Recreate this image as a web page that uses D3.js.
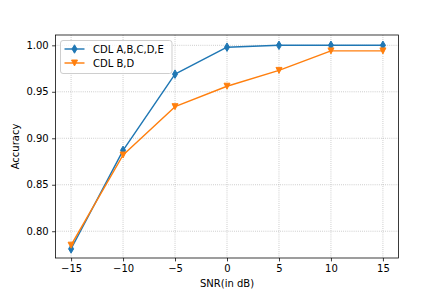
<!DOCTYPE html>
<html><head><meta charset="utf-8">
<script src="https://cdn.jsdelivr.net/npm/d3@7"></script>
<style>body{margin:0;background:#fff}svg{display:block;font-family:"DejaVu Sans",sans-serif}</style>
</head><body>
<script>
const snr = [-15, -10, -5, 0, 5, 10, 15];
const seriesNames = ["CDL A,B,C,D,E", "CDL B,D"];
const accAll = [0.781, 0.887, 0.969, 0.998, 1.000, 1.000, 1.000];
const accBD = [0.785, 0.882, 0.934, 0.956, 0.973, 0.994, 0.994];
const xTicks = [-15, -10, -5, 0, 5, 10, 15];
const yTicks = [0.80, 0.85, 0.90, 0.95, 1.00];
const colors = ["#1f77b4", "#ff7f0e"];

const W = 443, H = 295, FS = 10;
const m = {l: 55.5, r: 398.5, t: 35, b: 258};
const svg = d3.select("body").append("svg").attr("width", W).attr("height", H);
const x = d3.scaleLinear().domain([-16.5, 16.5]).range([m.l, m.r]);
const y = d3.scaleLinear().domain([0.7712, 1.0111]).range([m.b, m.t]);

// grid
const g = svg.append("g");
g.selectAll(".gx").data(xTicks).join("line")
  .attr("x1", d => x(d)).attr("x2", d => x(d)).attr("y1", m.t).attr("y2", m.b)
  .attr("stroke", "#b0b0b0").attr("stroke-width", 0.77).attr("stroke-dasharray", "0.8,1.3");
g.selectAll(".gy").data(yTicks).join("line")
  .attr("y1", d => y(d)).attr("y2", d => y(d)).attr("x1", m.l).attr("x2", m.r)
  .attr("stroke", "#b0b0b0").attr("stroke-width", 0.77).attr("stroke-dasharray", "0.8,1.3");

// axes
const fmtX = d => (d < 0 ? "\u2212" + Math.abs(d) : String(d));
const xAxis = d3.axisBottom(x).tickValues(xTicks).tickFormat(fmtX).tickSize(3.4).tickPadding(3.4);
const yAxis = d3.axisLeft(y).tickValues(yTicks).tickFormat(d3.format(".2f")).tickSize(3.4).tickPadding(3.4);
const gx = svg.append("g").attr("transform", `translate(0,${m.b})`).call(xAxis);
const gy = svg.append("g").attr("transform", `translate(${m.l},0)`).call(yAxis);
[gx, gy].forEach(a => {
  a.select(".domain").remove();
  a.selectAll("line").attr("stroke", "#000").attr("stroke-width", 0.77);
  a.selectAll("text").attr("font-size", FS).attr("fill", "#000").attr("font-family", "DejaVu Sans");
});
svg.append("rect").attr("x", m.l).attr("y", m.t).attr("width", m.r - m.l).attr("height", m.b - m.t)
  .attr("fill", "none").attr("stroke", "#000").attr("stroke-width", 0.77);

svg.append("text").attr("x", x(0)).attr("y", 287).attr("text-anchor", "middle")
  .attr("font-size", FS).text("SNR(in dB)");
svg.append("text").attr("transform", `translate(19,${(m.t + m.b) / 2}) rotate(-90)`)
  .attr("text-anchor", "middle").attr("font-size", FS).text("Accuracy");

// markers
const diamond = (s) => { const h = s * Math.SQRT2 / 2, w = h * 0.6; return `M0,${-h}L${w},0L0,${h}L${-w},0Z`; };
const triDown = (s) => { const h = s / 2; return `M0,${h}L${-h},${-h}L${h},${-h}Z`; };
const ms = 6;
const series = [
  {name: seriesNames[0], vals: accAll, color: colors[0], mk: diamond(ms)},
  {name: seriesNames[1], vals: accBD, color: colors[1], mk: triDown(ms)}
];
const line = d3.line().x((d, i) => x(snr[i])).y(d => y(d));
series.forEach(s => {
  svg.append("path").attr("d", line(s.vals)).attr("fill", "none").attr("stroke", s.color)
    .attr("stroke-width", 1.44).attr("stroke-linejoin", "round").attr("stroke-linecap", "square");
  svg.append("g").selectAll("path").data(s.vals).join("path")
    .attr("transform", (d, i) => `translate(${x(snr[i])},${y(d)})`)
    .attr("d", s.mk).attr("fill", s.color).attr("stroke", s.color).attr("stroke-width", 0.96);
});

// legend
const lg = svg.append("g");
lg.append("rect").attr("x", 60.5).attr("y", 40.5).attr("width", 111.5).attr("height", 33).attr("rx", 2.5)
  .attr("fill", "#fff").attr("fill-opacity", 0.8).attr("stroke", "#cccccc").attr("stroke-width", 0.96);
series.forEach((s, i) => {
  const yy = 49 + i * 14;
  lg.append("line").attr("x1", 64.5).attr("x2", 84.5).attr("y1", yy).attr("y2", yy)
    .attr("stroke", s.color).attr("stroke-width", 1.44);
  lg.append("path").attr("transform", `translate(74.5,${yy})`).attr("d", s.mk)
    .attr("fill", s.color).attr("stroke", s.color).attr("stroke-width", 0.96);
  lg.append("text").attr("x", 93).attr("y", yy + 3.6).attr("font-size", FS).text(s.name);
});
</script>
</body></html>
